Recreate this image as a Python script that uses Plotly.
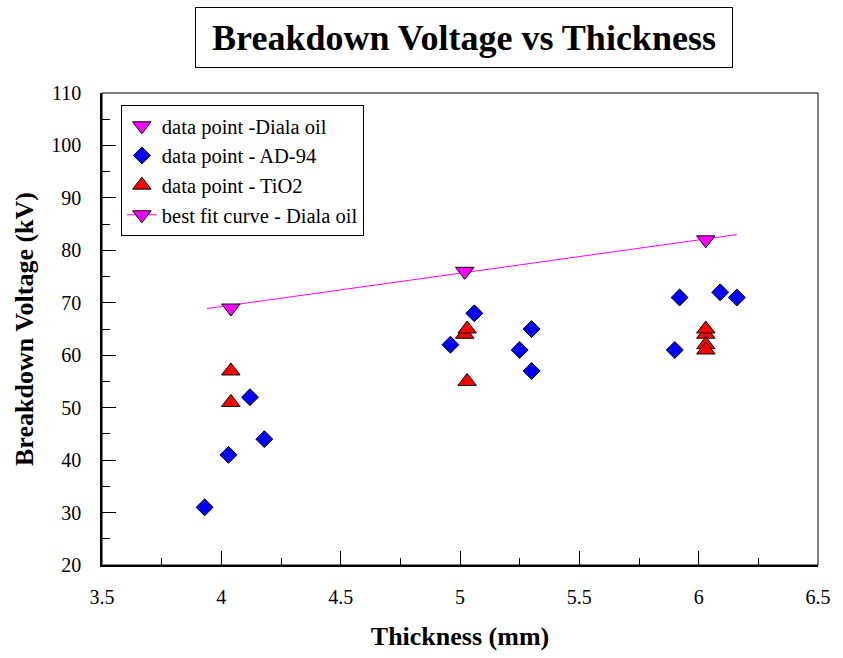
import plotly.graph_objects as go

# Data
diala_x = [4.04, 5.02, 6.03]
diala_y = [69, 76, 82]

ad94_x = [3.93, 4.03, 4.12, 4.18, 4.96, 5.06, 5.25, 5.30, 5.30, 5.90, 5.92, 6.09, 6.16]
ad94_y = [31, 41, 52, 44, 62, 68, 61, 65, 57, 61, 71, 72, 71]

tio2_x = [4.04, 4.04, 5.02, 5.03, 5.03, 6.03, 6.03, 6.03, 6.03]
tio2_y = [57, 51, 64, 65, 55, 64, 65, 62, 61]

fit_x = [3.94, 6.16]
fit_y = [68.9, 83.0]

names = ["data point -Diala oil", "data point - AD-94", "data point - TiO2",
         "best fit curve - Diala oil"]

FONT = "Liberation Serif"
MAG = "#ff00ff"

fig = go.Figure()

# fit line (drawn first, below markers)
fig.add_trace(go.Scatter(x=fit_x, y=fit_y, mode="lines",
                         line=dict(color=MAG, width=1), showlegend=False,
                         hoverinfo="skip"))

fig.add_trace(go.Scatter(x=diala_x, y=diala_y, mode="markers", name=names[0],
                         marker=dict(symbol="triangle-down", size=16, color=MAG,
                                     line=dict(color="black", width=1))))
fig.add_trace(go.Scatter(x=ad94_x, y=ad94_y, mode="markers", name=names[1],
                         marker=dict(symbol="diamond", size=13, color="#0000ff",
                                     line=dict(color="black", width=1))))
fig.add_trace(go.Scatter(x=tio2_x, y=tio2_y, mode="markers", name=names[2],
                         marker=dict(symbol="triangle-up", size=16, color="#ff0000",
                                     line=dict(color="black", width=1))))
# legend entry for the fit curve
fig.add_trace(go.Scatter(x=[None], y=[None], mode="lines+markers", name=names[3],
                         line=dict(color=MAG, width=1),
                         marker=dict(symbol="triangle-down", size=16, color=MAG,
                                     line=dict(color="black", width=1))))

axis_common = dict(
    showgrid=False, zeroline=False, showline=True, linecolor="black", linewidth=1.5,
    mirror=False, ticks="inside", tickcolor="black", ticklen=14, tickwidth=1,
    tickfont=dict(family=FONT, size=20, color="black"),
)

fig.update_xaxes(range=[3.5, 6.5],
                 tickvals=[3.5, 4, 4.5, 5, 5.5, 6, 6.5],
                 ticktext=["3.5", "4", "4.5", "5", "5.5", "6", "6.5"],
                 minor=dict(dtick=0.25, ticks="inside", ticklen=7, tickcolor="black"),
                 ticklabelstandoff=13,
                 title=dict(text="<b>Thickness (mm)</b>",
                            font=dict(family=FONT, size=26, color="black"), standoff=20),
                 **axis_common)
fig.update_yaxes(range=[20, 110], tick0=20, dtick=10,
                 minor=dict(dtick=5, ticks="inside", ticklen=8, tickcolor="black"),
                 ticklabelstandoff=15,
                 title=dict(text="<b>Breakdown Voltage (kV)</b>",
                            font=dict(family=FONT, size=26, color="black"), standoff=10),
                 **axis_common)

# thin frame on top/right
fig.add_shape(type="rect", xref="x domain", yref="y domain", x0=0, x1=1, y0=0, y1=1,
              line=dict(color="black", width=1), layer="above")

# title box
fig.add_annotation(text="<b>Breakdown Voltage vs Thickness</b>", xref="paper", yref="paper",
                   x=(467 - 102) / 721, y=1 + (93 - 38) / 472, xanchor="center", yanchor="middle",
                   showarrow=False, width=534, height=57, align="center", valign="middle",
                   bordercolor="black", borderwidth=1, bgcolor="white",
                   font=dict(family=FONT, size=36, color="black"))

fig.update_layout(
    width=843, height=658,
    margin=dict(l=102, r=20, t=93, b=93),
    paper_bgcolor="white", plot_bgcolor="white",
    legend=dict(x=(121 - 102) / 721, y=1 - (105 - 93) / 472, xanchor="left", yanchor="top",
                bordercolor="black", borderwidth=1, bgcolor="white",
                font=dict(family=FONT, size=20.5, color="black"),
                itemwidth=30),
    showlegend=True,
)

fig.write_html("out.html")
